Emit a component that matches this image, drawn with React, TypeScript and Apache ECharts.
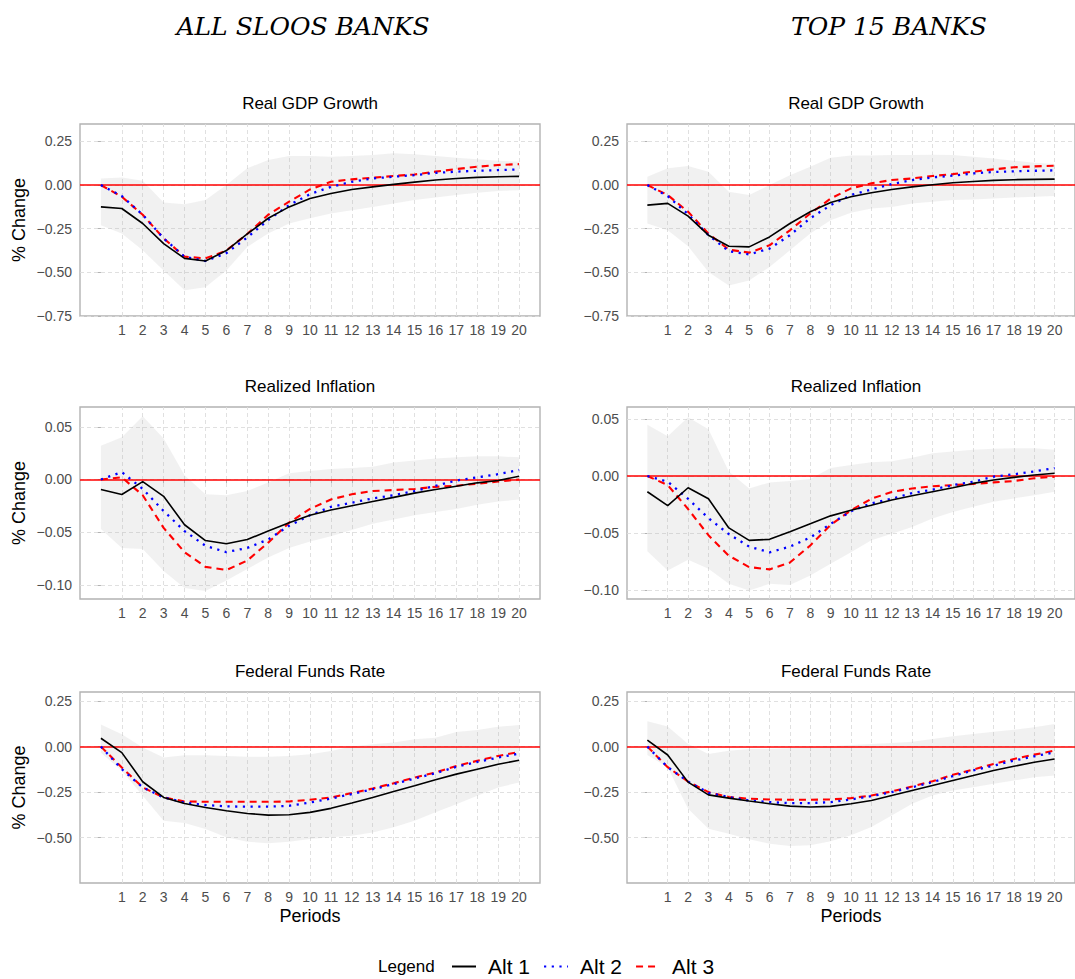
import React, { useEffect, useRef } from 'react';
import * as echarts from 'echarts';

// periods on the horizontal axis
const periods = [0, 1, 2, 3, 4, 5, 6, 7, 8, 9, 10, 11, 12, 13, 14, 15, 16, 17, 18, 19, 20];
const periodTicks = [1, 2, 3, 4, 5, 6, 7, 8, 9, 10, 11, 12, 13, 14, 15, 16, 17, 18, 19, 20];

const seriesNames = ['Alt 1', 'Alt 2', 'Alt 3'];
const columnTitles = ['ALL SLOOS BANKS', 'TOP 15 BANKS'];
const panelTitles = ['Real GDP Growth', 'Realized Inflation', 'Federal Funds Rate'];

const gdpTicks = [-0.75, -0.5, -0.25, 0, 0.25];
const inflTicks = [-0.1, -0.05, 0, 0.05];
const ffrTicks = [-0.5, -0.25, 0, 0.25];

// Real GDP growth, all SLOOS banks
const gdpAllAlt1 = [-0.125, -0.134, -0.22, -0.335, -0.42, -0.435, -0.375, -0.28, -0.19, -0.125, -0.077, -0.048, -0.025, -0.01, 0.004, 0.017, 0.029, 0.038, 0.044, 0.048, 0.05];
const gdpAllAlt2 = [0, -0.063, -0.17, -0.305, -0.41, -0.435, -0.39, -0.3, -0.2, -0.115, -0.052, -0.01, 0.019, 0.038, 0.048, 0.057, 0.07, 0.077, 0.082, 0.086, 0.09];
const gdpAllAlt3 = [0, -0.067, -0.17, -0.305, -0.41, -0.42, -0.375, -0.28, -0.17, -0.095, -0.025, 0.019, 0.033, 0.042, 0.052, 0.061, 0.077, 0.092, 0.105, 0.115, 0.12];
const gdpAllHigh = [0.038, 0.044, 0.025, -0.1, -0.11, -0.086, 0, 0.096, 0.144, 0.167, 0.167, 0.163, 0.167, 0.172, 0.182, 0.176, 0.167, 0.157, 0.148, 0.14, 0.134];
const gdpAllLow = [-0.23, -0.278, -0.374, -0.49, -0.603, -0.585, -0.49, -0.354, -0.278, -0.22, -0.19, -0.163, -0.144, -0.125, -0.105, -0.086, -0.071, -0.057, -0.044, -0.034, -0.029];

// Real GDP growth, top 15 banks
const gdpTopAlt1 = [-0.115, -0.105, -0.178, -0.287, -0.35, -0.354, -0.297, -0.22, -0.153, -0.1, -0.067, -0.044, -0.025, -0.01, 0.002, 0.013, 0.021, 0.027, 0.031, 0.033, 0.034];
const gdpTopAlt2 = [0, -0.063, -0.167, -0.287, -0.379, -0.397, -0.364, -0.287, -0.19, -0.115, -0.057, -0.025, 0.006, 0.029, 0.044, 0.054, 0.067, 0.075, 0.079, 0.082, 0.084];
const gdpTopAlt3 = [0, -0.057, -0.153, -0.278, -0.37, -0.387, -0.345, -0.259, -0.163, -0.077, -0.019, 0.01, 0.029, 0.038, 0.052, 0.063, 0.077, 0.09, 0.102, 0.107, 0.111];
const gdpTopHigh = [0.048, 0.096, 0.109, 0.077, -0.038, -0.057, 0, 0.057, 0.105, 0.157, 0.169, 0.17, 0.172, 0.172, 0.174, 0.172, 0.163, 0.153, 0.14, 0.128, 0.121];
const gdpTopLow = [-0.22, -0.259, -0.35, -0.498, -0.575, -0.546, -0.469, -0.374, -0.278, -0.201, -0.159, -0.134, -0.125, -0.105, -0.096, -0.086, -0.082, -0.077, -0.071, -0.067, -0.063];

// Realized inflation, all SLOOS banks
const inflAllAlt1 = [-0.0096, -0.0143, -0.002, -0.016, -0.043, -0.058, -0.061, -0.057, -0.049, -0.041, -0.034, -0.029, -0.025, -0.021, -0.017, -0.013, -0.0096, -0.0064, -0.0032, -0.001, 0.003];
const inflAllAlt2 = [0, 0.007, -0.009, -0.03, -0.049, -0.063, -0.069, -0.065, -0.057, -0.044, -0.034, -0.026, -0.022, -0.018, -0.015, -0.011, -0.006, -0.001, 0.002, 0.005, 0.009];
const inflAllAlt3 = [0, 0.002, -0.015, -0.046, -0.069, -0.083, -0.086, -0.077, -0.06, -0.041, -0.028, -0.019, -0.014, -0.011, -0.01, -0.009, -0.007, -0.006, -0.004, -0.002, 0];
const inflAllHigh = [0.032, 0.04, 0.06, 0.039, 0.004, -0.014, -0.015, -0.011, -0.003, 0.006, 0.008, 0.01, 0.011, 0.012, 0.016, 0.018, 0.02, 0.021, 0.022, 0.022, 0.021];
const inflAllLow = [-0.047, -0.065, -0.066, -0.087, -0.103, -0.106, -0.096, -0.085, -0.074, -0.065, -0.059, -0.054, -0.048, -0.042, -0.038, -0.034, -0.031, -0.028, -0.024, -0.021, -0.019];

// Realized inflation, top 15 banks
const inflTopAlt1 = [-0.0138, -0.026, -0.0103, -0.02, -0.0456, -0.0565, -0.0556, -0.049, -0.042, -0.035, -0.03, -0.0256, -0.021, -0.0174, -0.0138, -0.0103, -0.0065, -0.0035, -0.0012, 0.0009, 0.0024];
const inflTopAlt2 = [0, -0.005, -0.02, -0.037, -0.051, -0.062, -0.067, -0.062, -0.054, -0.042, -0.031, -0.024, -0.02, -0.015, -0.012, -0.008, -0.005, -0.0006, 0.0015, 0.004, 0.007];
const inflTopAlt3 = [0, -0.008, -0.029, -0.052, -0.07, -0.08, -0.082, -0.076, -0.061, -0.043, -0.03, -0.02, -0.014, -0.011, -0.009, -0.008, -0.007, -0.0056, -0.0044, -0.002, -0.0006];
const inflTopHigh = [0.045, 0.035, 0.0515, 0.041, 0.004, -0.011, -0.0056, -0.0044, -0.0026, 0.007, 0.0097, 0.012, 0.013, 0.016, 0.02, 0.0215, 0.023, 0.024, 0.0244, 0.0244, 0.023];
const inflTopLow = [-0.066, -0.083, -0.0735, -0.0815, -0.0947, -0.1006, -0.0947, -0.0956, -0.0874, -0.077, -0.067, -0.0565, -0.0506, -0.0447, -0.0374, -0.0315, -0.027, -0.0226, -0.0197, -0.0168, -0.0138];

// Federal funds rate, all SLOOS banks
const ffrAllAlt1 = [0.046, -0.033, -0.193, -0.279, -0.312, -0.334, -0.352, -0.367, -0.376, -0.374, -0.361, -0.339, -0.31, -0.279, -0.246, -0.215, -0.182, -0.151, -0.124, -0.097, -0.075];
const ffrAllAlt2 = [0, -0.124, -0.224, -0.279, -0.307, -0.321, -0.328, -0.33, -0.33, -0.325, -0.307, -0.285, -0.261, -0.234, -0.206, -0.175, -0.146, -0.111, -0.084, -0.06, -0.038];
const ffrAllAlt3 = [0, -0.115, -0.224, -0.279, -0.301, -0.303, -0.303, -0.303, -0.303, -0.301, -0.292, -0.279, -0.255, -0.23, -0.201, -0.17, -0.142, -0.106, -0.078, -0.051, -0.029];
const ffrAllHigh = [0.122, 0.068, -0.005, -0.06, -0.047, -0.047, -0.051, -0.055, -0.055, -0.051, -0.042, -0.024, 0, 0.013, 0.022, 0.04, 0.049, 0.08, 0.091, 0.109, 0.119];
const ffrAllLow = [-0.033, -0.133, -0.27, -0.407, -0.42, -0.453, -0.498, -0.522, -0.531, -0.522, -0.507, -0.498, -0.489, -0.471, -0.443, -0.407, -0.361, -0.316, -0.27, -0.224, -0.197];

// Federal funds rate, top 15 banks
const ffrTopAlt1 = [0.036, -0.046, -0.195, -0.265, -0.283, -0.299, -0.314, -0.327, -0.332, -0.328, -0.314, -0.296, -0.268, -0.241, -0.214, -0.186, -0.159, -0.131, -0.108, -0.086, -0.068];
const ffrTopAlt2 = [0, -0.113, -0.192, -0.254, -0.277, -0.296, -0.305, -0.31, -0.31, -0.305, -0.29, -0.272, -0.25, -0.223, -0.195, -0.162, -0.131, -0.104, -0.077, -0.053, -0.031];
const ffrTopAlt3 = [0, -0.113, -0.192, -0.25, -0.277, -0.286, -0.29, -0.292, -0.292, -0.29, -0.283, -0.268, -0.246, -0.219, -0.19, -0.155, -0.126, -0.095, -0.068, -0.044, -0.022];
const ffrTopHigh = [0.139, 0.111, 0.015, -0.04, -0.022, -0.013, -0.013, -0.009, -0.004, 0.002, 0.009, 0.015, 0.02, 0.027, 0.042, 0.057, 0.069, 0.082, 0.093, 0.106, 0.124];
const ffrTopLow = [-0.046, -0.113, -0.341, -0.451, -0.478, -0.509, -0.533, -0.546, -0.542, -0.52, -0.487, -0.442, -0.378, -0.314, -0.268, -0.241, -0.223, -0.204, -0.186, -0.168, -0.159];

// panel order: row by row, left column first
const panelLines = [
  [gdpAllAlt1, gdpAllAlt2, gdpAllAlt3],
  [gdpTopAlt1, gdpTopAlt2, gdpTopAlt3],
  [inflAllAlt1, inflAllAlt2, inflAllAlt3],
  [inflTopAlt1, inflTopAlt2, inflTopAlt3],
  [ffrAllAlt1, ffrAllAlt2, ffrAllAlt3],
  [ffrTopAlt1, ffrTopAlt2, ffrTopAlt3],
];
const panelHigh = [gdpAllHigh, gdpTopHigh, inflAllHigh, inflTopHigh, ffrAllHigh, ffrTopHigh];
const panelLow = [gdpAllLow, gdpTopLow, inflAllLow, inflTopLow, ffrAllLow, ffrTopLow];
const panelTicks = [gdpTicks, gdpTicks, inflTicks, inflTicks, ffrTicks, ffrTicks];
const panelRange = [
  [-0.75, 0.35], [-0.75, 0.35],
  [-0.1135, 0.0688], [-0.108, 0.0606],
  [-0.749, 0.3], [-0.749, 0.3],
];

// layout
const colLeft = [80, 627];
const colWidth = [460, 458];
const rowTop = [124, 407, 692];
const rowHeight = [192, 192, 191];
const headerX = [303, 889];

const FONT = 'Liberation Sans, Arial, sans-serif';
const lineStyles = [
  { color: '#000000', width: 1.6, type: 'solid' },
  { color: '#0000ff', width: 2.3, type: [2.2, 5.5] },
  { color: '#ff0000', width: 2.1, type: [7, 5] },
];

const fmt = (v: number) => (v < -1e-9 ? '\u2212' : '') + Math.abs(v).toFixed(2);

const App: React.FC = () => {
  const chartRef = useRef<HTMLDivElement>(null);

  useEffect(() => {
    if (!chartRef.current) return;
    const chart = echarts.init(chartRef.current, undefined, { renderer: 'svg' });

    const grids: any[] = [];
    const xAxes: any[] = [];
    const yAxes: any[] = [];
    const series: any[] = [];
    const graphics: any[] = [];

    for (let k = 0; k < 6; k++) {
      const row = Math.floor(k / 2);
      const col = k % 2;
      const ticks = panelTicks[k];
      grids.push({
        left: colLeft[col],
        top: rowTop[row],
        width: colWidth[col],
        height: rowHeight[row],
        show: true,
        borderColor: '#b3b3b3',
        borderWidth: 1.4,
        backgroundColor: 'transparent',
      });
      xAxes.push({
        gridIndex: k,
        type: 'value',
        min: -1,
        max: 21,
        axisLine: { show: false },
        splitLine: { show: false },
        axisTick: { show: true, customValues: periodTicks, length: 4, lineStyle: { color: '#b3b3b3', width: 1 } },
        axisLabel: { customValues: periodTicks, color: '#4d4d4d', fontSize: 14, fontFamily: FONT, margin: 7 },
        name: row === 2 ? 'Periods' : '',
        nameLocation: 'middle',
        nameGap: 24,
        nameTextStyle: { fontSize: 18, color: '#000', fontFamily: FONT },
      });
      yAxes.push({
        gridIndex: k,
        type: 'value',
        min: panelRange[k][0],
        max: panelRange[k][1],
        axisLine: { show: false },
        splitLine: { show: false },
        axisTick: { show: true, customValues: ticks, length: 4, lineStyle: { color: '#b3b3b3', width: 1 } },
        axisLabel: { customValues: ticks, formatter: fmt, color: '#4d4d4d', fontSize: 14, fontFamily: FONT, margin: 8 },
        name: col === 0 ? '% Change' : '',
        nameLocation: 'middle',
        nameRotate: 90,
        nameGap: 52,
        nameTextStyle: { fontSize: 18, color: '#000', fontFamily: FONT },
      });

      const low = panelLow[k];
      const high = panelHigh[k];
      // confidence band as one polygon, placed through the axes' scales
      series.push({
        type: 'custom',
        name: 'band' + k,
        xAxisIndex: k,
        yAxisIndex: k,
        data: periods.map((p, i) => [p, low[i], high[i]]),
        encode: { x: 0, y: [1, 2] },
        silent: true,
        z: 2,
        renderItem: (params: any, api: any) => {
          if (params.dataIndex !== 0) return null;
          const upper = periods.map((p, i) => api.coord([p, high[i]]));
          const lower = periods.map((p, i) => api.coord([p, low[i]])).reverse();
          return {
            type: 'polygon',
            shape: { points: upper.concat(lower) },
            style: { fill: 'rgba(175,175,175,0.18)', stroke: 'none' },
            silent: true,
          };
        },
        markLine: {
          silent: true,
          z: 1,
          symbol: ['none', 'none'],
          label: { show: false },
          emphasis: { disabled: true },
          lineStyle: { color: '#dcdcdc', width: 0.9, type: [4, 3] },
          data: [
            ...periodTicks.map((p) => ({ xAxis: p })),
            ...ticks.map((v) => ({ yAxis: v })),
          ],
        },
      });
      panelLines[k].forEach((vals, j) => {
        series.push({
          type: 'line',
          name: seriesNames[j],
          xAxisIndex: k,
          yAxisIndex: k,
          data: periods.map((p, i) => [p, vals[i]]),
          symbol: 'none',
          lineStyle: lineStyles[j],
          itemStyle: { color: lineStyles[j].color },
          silent: true,
          z: 4 + (2 - j) * 0.1,
          markLine: j === 0
            ? {
                silent: true,
                z: 3,
                symbol: ['none', 'none'],
                label: { show: false },
                emphasis: { disabled: true },
                lineStyle: { color: '#ff0000', width: 1.7, type: 'solid' },
                data: [{ yAxis: 0 }],
              }
            : undefined,
        });
      });

      graphics.push({
        type: 'text',
        x: colLeft[col] + colWidth[col] / 2,
        y: rowTop[row] - 21,
        style: {
          text: panelTitles[row],
          fill: '#000',
          fontSize: 17,
          fontFamily: FONT,
          align: 'center',
          verticalAlign: 'middle',
        },
      });
    }

    columnTitles.forEach((t, c) => {
      graphics.push({
        type: 'text',
        x: headerX[c],
        y: 26,
        style: {
          text: t,
          fill: '#000',
          fontSize: 25,
          fontStyle: 'italic',
          fontFamily: 'DejaVu Serif, serif',
          align: 'center',
          verticalAlign: 'middle',
        },
      });
    });
    graphics.push({
      type: 'text',
      x: 378,
      y: 966,
      style: { text: 'Legend', fill: '#000', fontSize: 17, fontFamily: FONT, align: 'left', verticalAlign: 'middle' },
    });

    chart.setOption({
      animation: false,
      backgroundColor: '#ffffff',
      grid: grids,
      xAxis: xAxes,
      yAxis: yAxes,
      series,
      graphic: graphics,
      legend: {
        data: seriesNames,
        left: 446,
        top: 951,
        itemWidth: 24,
        itemHeight: 14,
        itemGap: 13,
        selectedMode: false,
        itemStyle: { opacity: 0 },
        textStyle: { fontSize: 21, color: '#000', fontFamily: FONT, padding: [0, 0, 0, 7] },
      },
    });

    return () => {
      chart.dispose();
    };
  }, []);

  return (
    <div
      ref={chartRef}
      style={{ position: 'absolute', left: 0, top: 0, width: 1075, height: 979, background: '#fff' }}
    />
  );
};

export default App;
